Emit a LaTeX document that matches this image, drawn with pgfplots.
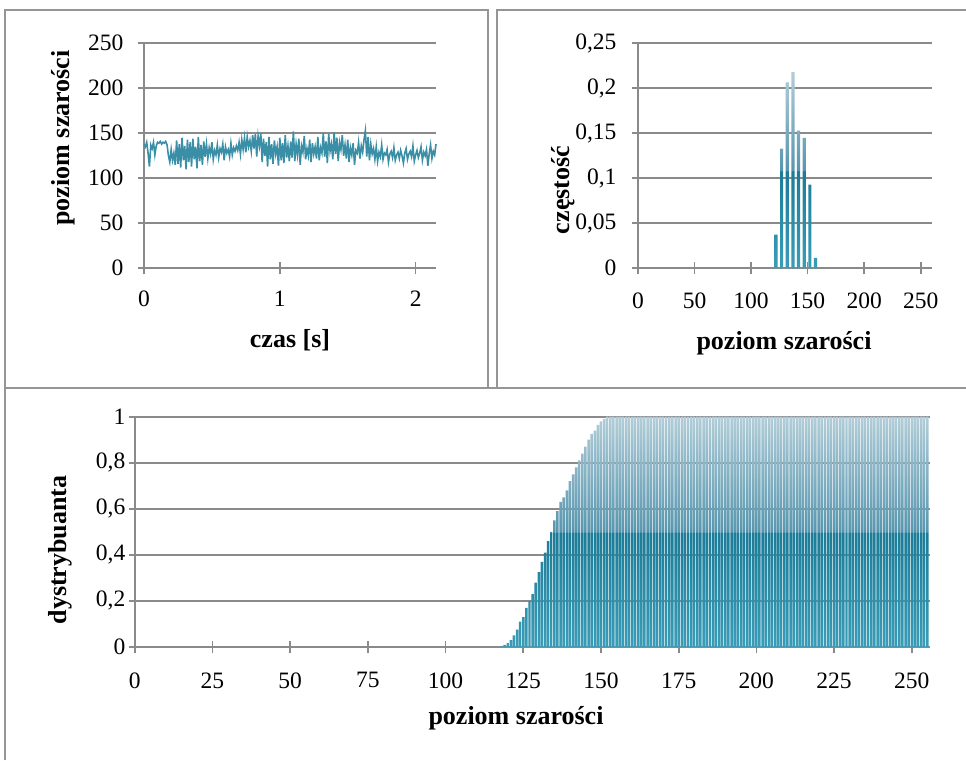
\documentclass[border=0pt]{standalone}
\usepackage{pgfplots}
\pgfplotsset{compat=1.18}
\usepackage{fontspec}
\setmainfont{Liberation Serif}
\definecolor{gridgray}{HTML}{8A8A8A}
\definecolor{bordergray}{HTML}{959595}
\definecolor{lineteal}{HTML}{3A8FA7}
\definecolor{cLow}{HTML}{3A9CB6}
\definecolor{cMidDark}{HTML}{1C7C98}
\definecolor{cMidLight}{HTML}{5896AE}
\definecolor{cTop}{HTML}{B2CDD8}
\pgfdeclareverticalshading{excelbar}{100bp}{color(0bp)=(cLow); color(25bp)=(cLow); color(49.9bp)=(cMidDark); color(50bp)=(cMidLight); color(75bp)=(cTop); color(100bp)=(cTop)}
\pgfplotsset{
  excel/.style={
    scale only axis,
    axis lines=left,
    axis line style={-, draw=gridgray, line width=1.7pt},
    every tick/.style={draw=gridgray, line width=1.7pt},
    major tick length=12pt,
    tick align=center,
    ymajorgrids,
    major grid style={draw=gridgray, line width=1.7pt},
    tick label style={font=\fontsize{23.5}{27}\selectfont},
    /pgf/number format/assume math mode=true,
    /pgf/number format/use comma,
    scaled ticks=false,
    clip=false,
  }
}
\begin{document}
\begin{tikzpicture}
\path[use as bounding box] (0pt,0pt) rectangle (966pt,760pt);
% panel borders
\draw[bordergray, line width=2.2pt] (5pt,0pt) -- (5pt,750pt) -- (488pt,750pt) -- (488pt,372pt);
\draw[bordergray, line width=2.2pt] (966pt,750pt) -- (497pt,750pt) -- (497pt,372pt);
\draw[bordergray, line width=2.2pt] (5pt,372pt) -- (966pt,372pt);

% ---------- top-left: time series ----------
\begin{axis}[excel,
  at={(144pt,491.7pt)}, anchor=south west,
  width=292pt, height=225pt,
  xmin=0, xmax=2.15, ymin=0, ymax=250,
  xtick={0,1,2}, ytick={0,50,100,150,200,250},
  xticklabel style={yshift=-13pt},
  yticklabel style={xshift=-11pt},
]
\addplot[lineteal, line width=1.6pt, mark=none] table[header=false, row sep=\\, x expr=\coordindex*0.01, y index=0] {
138\\135\\140\\128\\113\\137\\133\\140\\126\\136\\
140\\139\\141\\138\\140\\139\\141\\137\\
125\\118\\132\\120\\128\\115\\
142\\116\\138\\112\\145\\120\\136\\110\\143\\118\\140\\113\\144\\121\\135\\111\\146\\119\\137\\115\\141\\124\\
138\\122\\134\\127\\140\\121\\131\\126\\137\\123\\133\\129\\138\\120\\135\\128\\132\\124\\139\\126\\134\\130\\136\\
131\\140\\127\\143\\132\\145\\129\\146\\135\\142\\130\\148\\133\\149\\124\\147\\136\\150\\
118\\144\\125\\140\\113\\146\\121\\138\\116\\142\\127\\135\\114\\145\\120\\139\\117\\148\\123\\136\\119\\
141\\123\\152\\119\\138\\126\\144\\115\\136\\129\\147\\121\\133\\125\\143\\118\\139\\127\\135\\122\\146\\120\\134\\
128\\150\\124\\141\\117\\149\\130\\138\\121\\151\\127\\145\\119\\140\\132\\148\\125\\137\\122\\143\\
118\\134\\126\\139\\115\\131\\128\\140\\122\\136\\129\\143\\153\\124\\146\\120\\138\\127\\133\\121\\
135\\119\\129\\124\\137\\121\\128\\126\\132\\118\\127\\130\\123\\134\\120\\126\\129\\122\\131\\125\\117\\128\\133\\121\\127\\130\\124\\136\\119\\126\\131\\123\\128\\135\\120\\129\\125\\132\\114\\127\\137\\122\\130\\126\\138\\
};
\end{axis}
\node[rotate=90, font=\bfseries\fontsize{26}{30}\selectfont] at (63pt,622pt) {poziom szarości};
\node[font=\bfseries\fontsize{26}{30}\selectfont] at (290pt,420pt) {czas [s]};

% ---------- top-right: histogram ----------
\begin{axis}[excel,
  at={(638pt,491.7pt)}, anchor=south west,
  width=294pt, height=225pt,
  xmin=0, xmax=260, ymin=0, ymax=0.25,
  xtick={0,50,100,150,200,250}, ytick={0,0.05,0.1,0.15,0.2,0.25},
  xticklabel style={yshift=-15pt},
  yticklabel style={xshift=-12pt, /pgf/number format/.cd, fixed, precision=2, use comma},
]
\addplot[ybar, bar width=2.8, draw=none, shading=excelbar] coordinates {
(122,0.0375) (127,0.133) (132,0.2065) (137,0.218) (142,0.153) (147,0.145) (152,0.093) (157,0.0116)
};
\end{axis}
\node[rotate=90, font=\bfseries\fontsize{26}{30}\selectfont] at (563pt,570pt) {częstość};
\node[font=\bfseries\fontsize{26}{30}\selectfont] at (784pt,417pt) {poziom szarości};

% ---------- bottom: CDF ----------
\begin{axis}[excel,
  at={(134.8pt,113pt)}, anchor=south west,
  width=795.6pt, height=230.3pt,
  xmin=0, xmax=256, ymin=0, ymax=1,
  xtick={0,25,...,250}, ytick={0,0.2,0.4,0.6,0.8,1},
  xticklabel style={yshift=-16pt},
  yticklabel style={/pgf/number format/.cd, fixed, precision=1, use comma},
]
\addplot[ybar, bar width=0.8, draw=none, shading=excelbar] coordinates {
(118,0.003)(119,0.009)(120,0.017)(121,0.03)(122,0.05)(123,0.075)(124,0.11)(125,0.13)
(126,0.17)(127,0.2)(128,0.23)(129,0.28)(130,0.325)(131,0.37)(132,0.41)(133,0.46)
(134,0.5)(135,0.55)(136,0.59)(137,0.63)(138,0.65)(139,0.68)(140,0.72)(141,0.75)
(142,0.78)(143,0.81)(144,0.84)(145,0.87)(146,0.9)(147,0.925)(148,0.94)(149,0.965)
(150,0.98)(151,0.99)(152,1)(153,1)(154,1)(155,1)(156,1)(157,1)(158,1)(159,1)
(160,1)(161,1)(162,1)(163,1)(164,1)(165,1)(166,1)(167,1)(168,1)(169,1)
(170,1)(171,1)(172,1)(173,1)(174,1)(175,1)(176,1)(177,1)(178,1)(179,1)
(180,1)(181,1)(182,1)(183,1)(184,1)(185,1)(186,1)(187,1)(188,1)(189,1)
(190,1)(191,1)(192,1)(193,1)(194,1)(195,1)(196,1)(197,1)(198,1)(199,1)
(200,1)(201,1)(202,1)(203,1)(204,1)(205,1)(206,1)(207,1)(208,1)(209,1)
(210,1)(211,1)(212,1)(213,1)(214,1)(215,1)(216,1)(217,1)(218,1)(219,1)
(220,1)(221,1)(222,1)(223,1)(224,1)(225,1)(226,1)(227,1)(228,1)(229,1)
(230,1)(231,1)(232,1)(233,1)(234,1)(235,1)(236,1)(237,1)(238,1)(239,1)
(240,1)(241,1)(242,1)(243,1)(244,1)(245,1)(246,1)(247,1)(248,1)(249,1)
(250,1)(251,1)(252,1)(253,1)(254,1)(255,1)
};
\end{axis}
\node[rotate=90, font=\bfseries\fontsize{26}{30}\selectfont] at (60pt,210pt) {dystrybuanta};
\node[font=\bfseries\fontsize{26}{30}\selectfont] at (516pt,42pt) {poziom szarości};
\end{tikzpicture}
\end{document}
